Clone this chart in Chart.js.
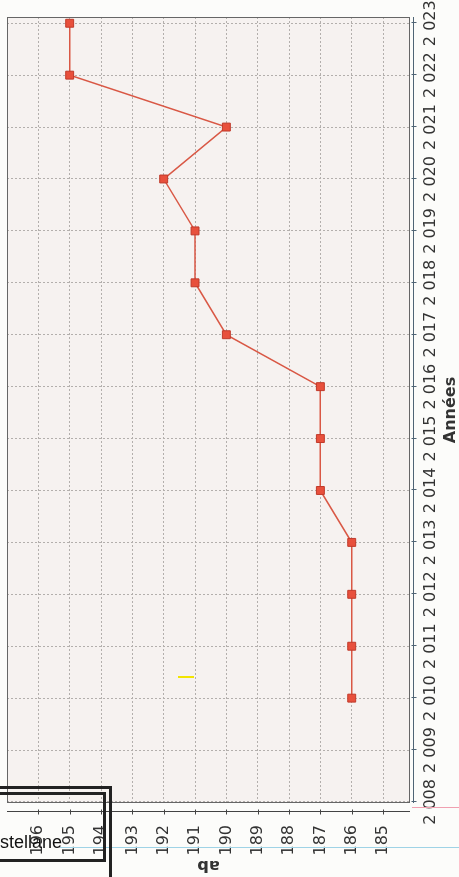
<!DOCTYPE html>
<html>
<head>
<meta charset="utf-8">
<script src="https://cdn.jsdelivr.net/npm/chart.js@4"></script>
<style>
  html, body { margin: 0; padding: 0; background: #fcfcfa; overflow: hidden; }
  body { width: 459px; height: 877px; position: relative; }
  #wrap {
    position: absolute; left: 0; top: 877px;
    width: 877px; height: 459px;
    transform-origin: 0 0; transform: rotate(-90deg);
  }
  .box { position: absolute; border: 3px solid #222; box-sizing: border-box; }
  #label {
    position: absolute; right: 397px; top: 833px;
    font: 18px "Liberation Sans", Arial, sans-serif; line-height: 18px;
    color: #111; white-space: nowrap;
  }
  .mark { position: absolute; }
</style>
</head>
<body>
<div id="wrap"><canvas id="my-chart" width="877" height="459"></canvas></div>
<div class="mark" style="left:60px;top:847px;width:399px;height:1px;background:#9fd3e6"></div>
<div class="mark" style="left:412px;top:807px;width:47px;height:1px;background:#f0a0b0"></div>
<div class="mark" style="left:178px;top:676px;width:16px;height:2px;background:#f2e500"></div>
<div class="box" style="left:-20px;top:786px;width:132px;height:200px"></div>
<div class="box" style="left:-20px;top:792px;width:126px;height:70px"></div>
<div id="label">Castellane</div>
<script>
const years = [2008, 2009, 2010, 2011, 2012, 2013, 2014, 2015, 2016, 2017, 2018, 2019, 2020, 2021, 2022, 2023];
const yearLabels = ['2 008', '2 009', '2 010', '2 011', '2 012', '2 013', '2 014', '2 015', '2 016', '2 017', '2 018', '2 019', '2 020', '2 021', '2 022', '2 023'];
const dataYears = [2010, 2011, 2012, 2013, 2014, 2015, 2016, 2017, 2018, 2019, 2020, 2021, 2022, 2023];
const values = [186, 186, 186, 186, 187, 187, 187, 190, 191, 191, 192, 190, 195, 195];
const valueTicks = [185, 186, 187, 188, 189, 190, 191, 192, 193, 194, 195, 196];

// plot background, frame and the offset axis lines
const framePlugin = {
  id: 'frame',
  beforeDraw(chart) {
    const { ctx, chartArea: a } = chart;
    ctx.save();
    ctx.fillStyle = '#f6f2f0';
    ctx.fillRect(a.left, a.top, a.right - a.left, a.bottom - a.top);
    ctx.restore();
  },
  afterDatasetsDraw(chart) {
    const { ctx, chartArea: a, scales } = chart;
    ctx.save();
    ctx.strokeStyle = '#666';
    ctx.lineWidth = 1;
    ctx.strokeRect(a.left + 0.5, a.top + 0.5, a.right - a.left - 1, a.bottom - a.top - 1);

    // year axis
    const yx = a.bottom + 3.5;
    ctx.strokeStyle = '#4f6475';
    ctx.beginPath();
    ctx.moveTo(a.left, yx);
    ctx.lineTo(a.right, yx);
    years.forEach(v => {
      const p = Math.round(scales.x.getPixelForValue(v)) + 0.5;
      ctx.moveTo(p, yx - 2);
      ctx.lineTo(p, yx + 3);
    });
    ctx.stroke();

    // value axis
    const vx = a.left - 8.5;
    ctx.strokeStyle = '#444';
    ctx.beginPath();
    ctx.moveTo(vx, a.top);
    ctx.lineTo(vx, a.bottom);
    valueTicks.forEach(v => {
      const p = Math.round(scales.y.getPixelForValue(v)) + 0.5;
      ctx.moveTo(vx + 2, p);
      ctx.lineTo(vx - 3, p);
    });
    ctx.stroke();
    ctx.restore();
  }
};

function noPadding(s) {
  s.paddingTop = 0;
  s.paddingBottom = 0;
  s.paddingLeft = 0;
  s.paddingRight = 0;
}

const ctx = document.getElementById('my-chart');
const myChart = new Chart(ctx, {
  type: 'line',
  data: {
    datasets: [{
      data: dataYears.map((yr, i) => ({ x: yr, y: values[i] })),
      borderColor: '#d95845',
      borderWidth: 1.5,
      backgroundColor: '#e8503c',
      pointBorderColor: '#c03a2a',
      pointBorderWidth: 1,
      pointStyle: 'rect',
      pointRadius: 5.6,
      tension: 0
    }]
  },
  options: {
    responsive: false,
    animation: false,
    events: [],
    layout: { padding: { top: 7, right: 17, bottom: 0, left: 0 } },
    plugins: { legend: { display: false }, tooltip: { enabled: false } },
    scales: {
      x: {
        type: 'linear',
        position: 'bottom',
        min: 2007.98,
        max: 2023.12,
        afterBuildTicks: s => { s.ticks = years.map(v => ({ value: v })); },
        afterFit: s => { s.height = 49; noPadding(s); },
        grid: { color: '#b3afac', drawTicks: false },
        border: { display: false, dash: [2, 2] },
        ticks: {
          autoSkip: false, maxRotation: 0, minRotation: 0, padding: 11,
          color: '#333', font: { family: 'DejaVu Sans', size: 16 },
          callback: v => yearLabels[years.indexOf(v)]
        },
        title: {
          display: true, text: 'Années', color: '#333',
          font: { family: 'DejaVu Sans', size: 16, weight: 'bold', lineHeight: 1 },
          padding: { top: 0, bottom: 0 }
        }
      },
      y: {
        type: 'linear',
        position: 'left',
        min: 184.14,
        max: 197,
        afterBuildTicks: s => { s.ticks = valueTicks.map(v => ({ value: v })); },
        afterFit: s => { s.width = 74; noPadding(s); },
        grid: { color: '#b3afac', drawTicks: false },
        border: { display: false, dash: [2, 2] },
        ticks: {
          padding: 22, color: '#333',
          font: { family: 'DejaVu Sans', size: 16 }
        },
        title: {
          display: true, text: 'ab', color: '#333',
          font: { family: 'DejaVu Sans', size: 16, weight: 'bold', lineHeight: 1 },
          padding: { top: 4, bottom: 0 }
        }
      }
    }
  },
  plugins: [framePlugin]
});
</script>
</body>
</html>
